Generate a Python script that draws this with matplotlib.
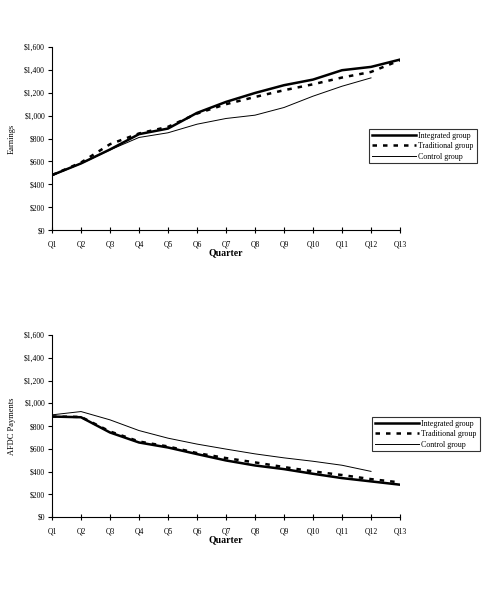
"""Earnings and AFDC payments by quarter for the three study groups."""

import matplotlib.pyplot as plt
from matplotlib.ticker import FuncFormatter

plt.rcParams["font.family"] = ["Liberation Serif", "DejaVu Serif"]

quarters = [f"Q{i}" for i in range(1, 14)]

# Earnings per quarter
earn_integrated = [480, 582, 704, 838, 887, 1024, 1120, 1198, 1266, 1315, 1397, 1426, 1490]
earn_traditional = [480, 590, 750, 844, 902, 1018, 1100, 1163, 1222, 1274, 1333, 1382, 1484]
earn_control = [475, 580, 700, 809, 850, 925, 975, 1004, 1071, 1170, 1257, 1330]

# AFDC payments per quarter
afdc_integrated = [883, 877, 743, 655, 611, 553, 497, 453, 421, 380, 342, 313, 284]
afdc_traditional = [883, 880, 752, 664, 620, 562, 518, 480, 439, 401, 369, 333, 304]
afdc_control = [898, 927, 854, 760, 693, 641, 597, 555, 520, 490, 455, 401]

labels = ["Integrated group", "Traditional group", "Control group"]
W, H = 488, 590


def draw_panel(ax, series, ylabel, legend_xy):
    x = list(range(len(quarters)))
    styles = [
        dict(color="black", linewidth=1.8, linestyle="-"),
        dict(color="black", linewidth=1.8, linestyle=(0, (1.8, 2.4))),
        dict(color="black", linewidth=0.7, linestyle="-"),
    ]
    for vals, label, st in zip(series, labels, styles):
        ax.plot(x[: len(vals)], vals, label=label, **st)
    ax.set_xlim(0, len(quarters) - 1)
    ax.set_ylim(0, 1600)
    ax.set_yticks(range(0, 1601, 200))
    ax.yaxis.set_major_formatter(FuncFormatter(lambda v, _: f"${v:,.0f}"))
    ax.set_xticks(x)
    ax.set_xticklabels(quarters)
    for side in ("top", "right"):
        ax.spines[side].set_visible(False)
    for side in ("left", "bottom"):
        ax.spines[side].set_linewidth(0.8)
    ax.tick_params(axis="y", direction="out", length=3, width=0.8, labelsize=5.5, pad=2)
    ax.tick_params(axis="x", direction="inout", length=5, width=0.8, labelsize=5.5, pad=5)
    ax.set_ylabel(ylabel, fontsize=6, labelpad=6)
    ax.set_xlabel("Quarter", fontsize=7, fontweight="bold", labelpad=0)
    leg = ax.legend(
        loc="upper left",
        bbox_to_anchor=(legend_xy[0] / W, 1 - legend_xy[1] / H),
        bbox_transform=ax.figure.transFigure,
        fontsize=5.7,
        frameon=True,
        fancybox=False,
        edgecolor="black",
        handlelength=5.6,
        handletextpad=0.3,
        borderpad=0.35,
        labelspacing=0.3,
        borderaxespad=0,
    )
    leg.get_frame().set_linewidth(0.8)


fig = plt.figure(figsize=(W / 100, H / 100), dpi=100)
ax1 = fig.add_axes([52 / W, 1 - 230 / H, 348 / W, 183 / H])
ax2 = fig.add_axes([52 / W, 1 - 517 / H, 348 / W, 182 / H])

draw_panel(ax1, [earn_integrated, earn_traditional, earn_control], "Earnings", (369, 129))
draw_panel(ax2, [afdc_integrated, afdc_traditional, afdc_control], "AFDC Payments", (372, 417))

fig.savefig("out.png", dpi=100)
plt.close(fig)
